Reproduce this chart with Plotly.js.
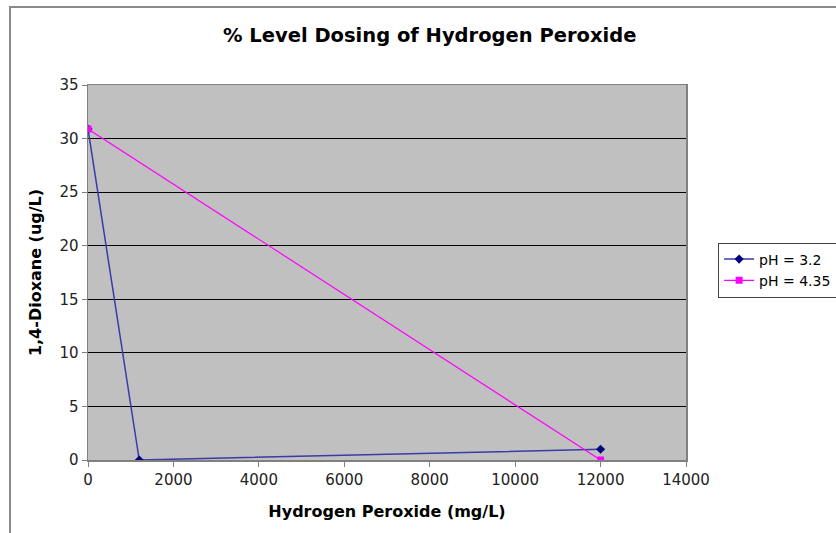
<!DOCTYPE html>
<html><head><meta charset="utf-8">
<script src="https://cdn.plot.ly/plotly-3.0.1.min.js"></script>
<style>body{margin:0;padding:0;background:#fff}</style>
</head><body>
<div id="chart" style="width:836px;height:533px"></div>
<script>
const seriesNames = ["pH = 3.2", "pH = 4.35"];
const x_ph32 = [0, 1200, 12000];
const y_ph32 = [30.9, 0, 1.0];
const x_ph435 = [0, 12000];
const y_ph435 = [30.9, 0];

const FONT = "'DejaVu Sans', Verdana, sans-serif";
const traces = [
  {x: x_ph32, y: y_ph32, name: seriesNames[0], type: "scatter", mode: "lines+markers",
   line: {color: "#3a3aa8", width: 1.5}, marker: {symbol: "diamond", size: 7, color: "#000080"}},
  {x: x_ph435, y: y_ph435, name: seriesNames[1], type: "scatter", mode: "lines+markers",
   line: {color: "#ff00ff", width: 1.2}, marker: {symbol: "square", size: 7, color: "#ff00ff"}}
];

const layout = {
  width: 836, height: 533,
  margin: {l: 88, r: 150, t: 85, b: 73, autoexpand: false},
  paper_bgcolor: "#ffffff", plot_bgcolor: "#c0c0c0",
  font: {family: FONT, size: 15, color: "#222"},
  title: {text: "<b>% Level Dosing of Hydrogen Peroxide</b>", x: 0.514, xref: "container",
          y: 0.934, yref: "container", yanchor: "middle", font: {family: FONT, size: 19.5, color: "#000"}},
  xaxis: {range: [0, 14000], dtick: 2000, tickformat: "d", showgrid: false, zeroline: false,
          showline: true, linecolor: "#808080", linewidth: 1.5, mirror: true,
          ticks: "outside", ticklen: 5, tickcolor: "#808080", tickfont: {family: FONT, size: 15, color: "#222"},
          title: {text: "<b>Hydrogen Peroxide (mg/L)</b>", font: {family: FONT, size: 16, color: "#000"}, standoff: 18}},
  yaxis: {range: [0, 35], dtick: 5, showgrid: true, gridcolor: "#000", gridwidth: 1, zeroline: false,
          showline: true, linecolor: "#808080", linewidth: 1.5, mirror: true,
          ticks: "outside", ticklen: 5, tickcolor: "#808080", tickfont: {family: FONT, size: 15, color: "#222"},
          title: {text: "<b>1,4-Dioxane (ug/L)</b>", font: {family: FONT, size: 16, color: "#000"}, standoff: 14}},
  legend: {xref: "container", yref: "container", x: 0.859, xanchor: "left", y: 0.545, yanchor: "top",
           bgcolor: "#fff", bordercolor: "#444", borderwidth: 1, font: {family: FONT, size: 14, color: "#000"},
           tracegroupgap: 0, itemwidth: 30},
  showlegend: true,
  shapes: [{type: "rect", xref: "paper", yref: "paper", x0: -0.1304, x1: 2, y0: -1, y1: 1.208,
            line: {color: "#8a8a8a", width: 2}, layer: "below"}]
};
Plotly.newPlot("chart", traces, layout, {displayModeBar: false, staticPlot: true});
</script>
</body></html>
